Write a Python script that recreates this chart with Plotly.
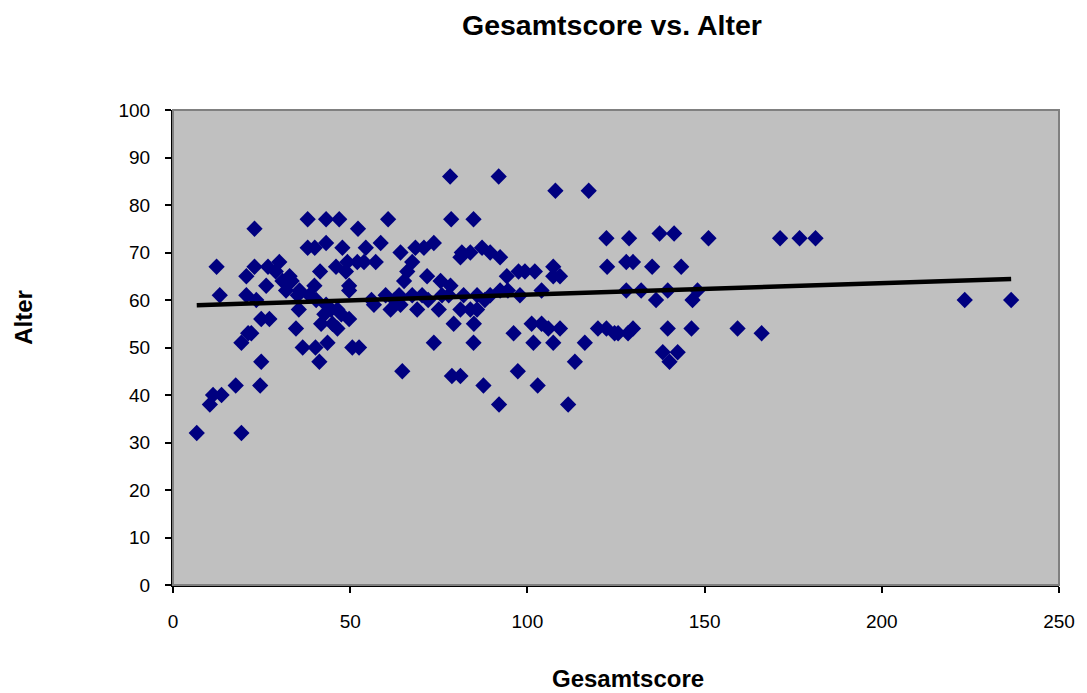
import plotly.graph_objects as go

# Gesamtscore (x) and Alter (y) values
score = [
    38.0, 43.2, 23.0, 38.0, 40.0, 43.2, 12.3, 23.0, 20.7, 26.8, 30.0, 32.9, 41.5, 13.2, 20.7, 26.3,
    30.9, 39.9, 35.7, 23.5, 31.9, 35.2, 38.5, 40.4, 43.2,
    6.7, 19.3, 10.4, 11.3, 13.7, 17.7, 24.6, 24.9, 19.3, 21.2, 22.1, 24.9, 27.2,
    34.7, 36.6, 40.2, 41.3, 35.5, 41.8, 42.7, 43.6,
    49.7, 44.6, 46.4, 49.7, 46.4, 50.6, 52.5, 56.7, 61.4, 64.2, 68.9, 75.0, 79.2, 81.1, 83.9,
    73.6, 64.7, 78.7, 81.1, 84.8, 60.0, 63.8, 67.5, 70.3, 75.9, 77.8, 82.0, 47.5, 45.0,
    78.2, 46.9, 60.7, 78.5, 52.2, 47.8, 54.4, 58.6, 64.2, 68.4, 70.8, 73.6, 81.5, 83.9, 81.1,
    46.0, 49.2, 52.0, 53.9, 57.2, 67.5, 66.1, 48.8, 49.7, 65.2, 71.7, 75.5, 78.3,
    91.9, 107.9, 117.3, 84.8, 122.3, 87.2, 89.5, 92.3, 122.5, 94.2, 97.5, 99.3, 102.1, 107.3,
    107.3, 109.2, 85.8, 89.5, 92.3, 97.9, 104.0,
    85.8, 84.9, 96.1, 101.2, 104.0, 105.9, 109.2, 101.7, 107.3, 116.2, 113.4, 119.9, 122.3,
    124.6, 97.3, 87.6, 102.9, 92.0, 111.5,
    128.7, 137.3, 141.4, 151.1, 127.9, 129.8, 135.2, 143.4, 127.9, 132.1, 139.6, 148.0, 136.3, 146.6,
    125.6, 128.4, 129.8, 139.6, 146.3, 159.3, 166.1, 138.2, 142.4, 140.1,
    171.3, 176.8, 181.3, 223.4, 236.5,
    29.0, 33.5, 56.0, 62.5, 72.0, 88.0, 94.5,
]
alter = [
    77, 77, 75, 71, 71, 72, 67, 67, 65, 67, 68, 65, 66, 61, 61, 63,
    64, 63, 62, 60, 62, 61, 61, 60, 59,
    32, 32, 38, 40, 40, 42, 42, 47, 51, 53, 53, 56, 56,
    54, 50, 50, 47, 58, 55, 57, 51,
    62, 58, 58, 56, 54, 50, 50, 59, 58, 59, 58, 58, 55, 58, 58,
    51, 45, 44, 44, 51, 61, 61, 61, 61, 61, 61, 61, 57, 55,
    86, 77, 77, 77, 75, 71, 71, 72, 70, 71, 71, 72, 70, 70, 69,
    67, 68, 68, 68, 68, 68, 66, 66, 63, 64, 65, 64, 63,
    86, 83, 83, 77, 73, 71, 70, 69, 67, 65, 66, 66, 66, 67,
    65, 65, 61, 61, 62, 61, 62,
    58, 55, 53, 55, 55, 54, 54, 51, 51, 51, 47, 54, 54,
    53, 45, 42, 42, 38, 38,
    73, 74, 74, 73, 68, 68, 67, 67, 62, 62, 62, 62, 60, 60,
    53, 53, 54, 54, 54, 54, 53, 49, 49, 47,
    73, 73, 73, 60, 60,
    66, 64, 60, 60, 60, 60, 62,
]

# Linear trend line end points
trend_x = [6.7, 236.5]
trend_y = [58.9, 64.4]

x_ticks = [0, 50, 100, 150, 200, 250]
y_ticks = [0, 10, 20, 30, 40, 50, 60, 70, 80, 90, 100]

font_family = "Liberation Sans, Arial, sans-serif"

fig = go.Figure()
fig.add_trace(go.Scatter(
    x=score, y=alter, mode="markers",
    marker=dict(symbol="diamond", size=12.5, color="#000080", line=dict(width=0)),
    showlegend=False, hoverinfo="x+y",
))
fig.add_trace(go.Scatter(
    x=trend_x, y=trend_y, mode="lines",
    line=dict(color="black", width=4.5),
    showlegend=False, hoverinfo="skip",
))

fig.update_layout(
    width=1079, height=685,
    margin=dict(l=165, r=24, t=102, b=108),
    paper_bgcolor="white",
    plot_bgcolor="#C0C0C0",
    font=dict(family=font_family, size=19, color="black"),
    shapes=[
        dict(type="rect", xref="paper", yref="paper", x0=0, x1=1, y0=0, y1=1,
             line=dict(color="#808080", width=2), fillcolor="rgba(0,0,0,0)", layer="above"),
    ],
    annotations=[
        dict(text="<b>Gesamtscore vs. Alter</b>", xref="paper", yref="paper",
             x=0.4955, y=1.178, xanchor="center", yanchor="middle", showarrow=False,
             font=dict(size=28.5)),
        dict(text="<b>Gesamtscore</b>", xref="paper", yref="paper", x=0.514, y=-0.197,
             xanchor="center", yanchor="middle", showarrow=False, font=dict(size=24)),
        dict(text="<b>Alter</b>", xref="paper", yref="paper", x=-0.1697, y=0.564,
             xanchor="center", yanchor="middle", showarrow=False, textangle=-90,
             font=dict(size=24)),
    ],
)
fig.update_xaxes(
    range=[0, 250], tickvals=x_ticks, showgrid=False, zeroline=False,
    showline=True, linecolor="black", linewidth=2,
    ticks="outside", ticklen=6, tickwidth=2, tickcolor="black", ticklabelstandoff=12,
)
fig.update_yaxes(
    range=[0, 100], tickvals=y_ticks, showgrid=False, zeroline=False,
    showline=True, linecolor="black", linewidth=2,
    ticks="outside", ticklen=6, tickwidth=2, tickcolor="black", ticklabelstandoff=11,
)

fig.write_html("out.html")
